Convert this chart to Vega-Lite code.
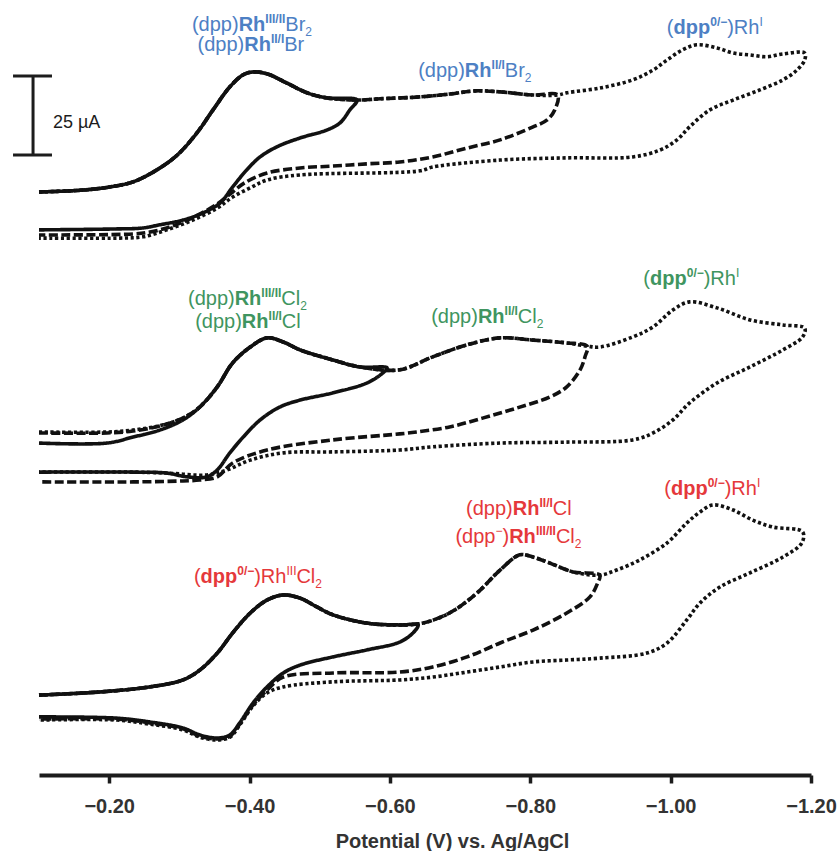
{
  "$schema": "https://vega.github.io/schema/vega-lite/v6.json",
  "width": 772,
  "height": 758,
  "autosize": {"type": "none"},
  "padding": {"left": 39, "top": 17, "right": 27, "bottom": 76},
  "config": {
    "view": {"stroke": null},
    "font": "Liberation Sans",
    "axis": {
      "domainWidth": 4, "domainColor": "#1c1c1c", "domainCap": "butt",
      "tickColor": "#1c1c1c", "tickWidth": 3.5, "tickSize": 8,
      "labelFontSize": 20, "labelFontWeight": "bold", "labelColor": "#333333",
      "labelBaseline": "alphabetic", "labelPadding": 29, "labelFlush": false, "labelOverlap": false,
      "grid": false,
      "titleFontSize": 20, "titleFontWeight": "bold", "titleColor": "#333333",
      "titleX": 413, "titleY": 72, "titleBaseline": "alphabetic", "titleAlign": "center", "titleAnchor": null
    }
  },
  "datasets": {
    "cv": [
      {"s":"a","w":"short","E":-0.100,"I":184.6},{"s":"a","w":"short","E":-0.163,"I":185.2},{"s":"a","w":"short","E":-0.201,"I":186.2},{"s":"a","w":"short","E":-0.234,"I":187.8},{"s":"a","w":"short","E":-0.268,"I":191.6},{"s":"a","w":"short","E":-0.297,"I":196.3},{"s":"a","w":"short","E":-0.325,"I":203.3},{"s":"a","w":"short","E":-0.348,"I":210.6},{"s":"a","w":"short","E":-0.372,"I":217.9},{"s":"a","w":"short","E":-0.391,"I":221.7},{"s":"a","w":"short","E":-0.405,"I":222.6},{"s":"a","w":"short","E":-0.425,"I":222.0},{"s":"a","w":"short","E":-0.453,"I":219.1},{"s":"a","w":"short","E":-0.482,"I":216.0},{"s":"a","w":"short","E":-0.510,"I":214.4},{"s":"a","w":"short","E":-0.553,"I":213.7},
      {"s":"a","w":"short","E":-0.543,"I":210.6},{"s":"a","w":"short","E":-0.529,"I":206.5},{"s":"a","w":"short","E":-0.510,"I":204.2},{"s":"a","w":"short","E":-0.472,"I":201.7},{"s":"a","w":"short","E":-0.439,"I":198.9},{"s":"a","w":"short","E":-0.415,"I":195.7},{"s":"a","w":"short","E":-0.396,"I":191.6},{"s":"a","w":"short","E":-0.376,"I":186.2},{"s":"a","w":"short","E":-0.358,"I":181.1},{"s":"a","w":"short","E":-0.334,"I":178.0},{"s":"a","w":"short","E":-0.305,"I":175.7},{"s":"a","w":"short","E":-0.272,"I":174.2},{"s":"a","w":"short","E":-0.248,"I":173.2},{"s":"a","w":"short","E":-0.211,"I":172.9},{"s":"a","w":"short","E":-0.100,"I":172.6},

      {"s":"a","w":"mid","E":-0.100,"I":184.6},{"s":"a","w":"mid","E":-0.163,"I":185.2},{"s":"a","w":"mid","E":-0.201,"I":186.2},{"s":"a","w":"mid","E":-0.234,"I":187.8},{"s":"a","w":"mid","E":-0.268,"I":191.6},{"s":"a","w":"mid","E":-0.297,"I":196.3},{"s":"a","w":"mid","E":-0.325,"I":203.3},{"s":"a","w":"mid","E":-0.348,"I":210.6},{"s":"a","w":"mid","E":-0.372,"I":217.9},{"s":"a","w":"mid","E":-0.391,"I":221.7},{"s":"a","w":"mid","E":-0.405,"I":222.6},{"s":"a","w":"mid","E":-0.425,"I":222.0},{"s":"a","w":"mid","E":-0.453,"I":219.1},{"s":"a","w":"mid","E":-0.482,"I":216.0},{"s":"a","w":"mid","E":-0.510,"I":214.4},{"s":"a","w":"mid","E":-0.553,"I":213.7},
      {"s":"a","w":"mid","E":-0.586,"I":214.1},{"s":"a","w":"mid","E":-0.643,"I":214.7},{"s":"a","w":"mid","E":-0.685,"I":215.6},{"s":"a","w":"mid","E":-0.721,"I":216.6},{"s":"a","w":"mid","E":-0.757,"I":216.3},{"s":"a","w":"mid","E":-0.804,"I":215.3},{"s":"a","w":"mid","E":-0.839,"I":215.3},
      {"s":"a","w":"mid","E":-0.835,"I":210.6},{"s":"a","w":"mid","E":-0.824,"I":207.4},{"s":"a","w":"mid","E":-0.804,"I":205.2},{"s":"a","w":"mid","E":-0.757,"I":201.1},{"s":"a","w":"mid","E":-0.710,"I":198.5},{"s":"a","w":"mid","E":-0.661,"I":195.7},{"s":"a","w":"mid","E":-0.614,"I":194.1},{"s":"a","w":"mid","E":-0.567,"I":193.5},{"s":"a","w":"mid","E":-0.519,"I":192.8},{"s":"a","w":"mid","E":-0.472,"I":192.2},{"s":"a","w":"mid","E":-0.425,"I":190.6},{"s":"a","w":"mid","E":-0.393,"I":187.5},{"s":"a","w":"mid","E":-0.376,"I":184.6},{"s":"a","w":"mid","E":-0.354,"I":180.8},{"s":"a","w":"mid","E":-0.329,"I":177.6},{"s":"a","w":"mid","E":-0.305,"I":175.1},{"s":"a","w":"mid","E":-0.282,"I":173.2},{"s":"a","w":"mid","E":-0.258,"I":171.9},{"s":"a","w":"mid","E":-0.234,"I":171.3},{"s":"a","w":"mid","E":-0.100,"I":171.0},

      {"s":"a","w":"full","E":-0.100,"I":184.6},{"s":"a","w":"full","E":-0.163,"I":185.2},{"s":"a","w":"full","E":-0.201,"I":186.2},{"s":"a","w":"full","E":-0.234,"I":187.8},{"s":"a","w":"full","E":-0.268,"I":191.6},{"s":"a","w":"full","E":-0.297,"I":196.3},{"s":"a","w":"full","E":-0.325,"I":203.3},{"s":"a","w":"full","E":-0.348,"I":210.6},{"s":"a","w":"full","E":-0.372,"I":217.9},{"s":"a","w":"full","E":-0.391,"I":221.7},{"s":"a","w":"full","E":-0.405,"I":222.6},{"s":"a","w":"full","E":-0.425,"I":222.0},{"s":"a","w":"full","E":-0.453,"I":219.1},{"s":"a","w":"full","E":-0.482,"I":216.0},{"s":"a","w":"full","E":-0.510,"I":214.4},{"s":"a","w":"full","E":-0.553,"I":213.7},
      {"s":"a","w":"full","E":-0.586,"I":214.1},{"s":"a","w":"full","E":-0.643,"I":214.7},{"s":"a","w":"full","E":-0.685,"I":215.6},{"s":"a","w":"full","E":-0.721,"I":216.6},{"s":"a","w":"full","E":-0.757,"I":216.3},{"s":"a","w":"full","E":-0.804,"I":215.3},{"s":"a","w":"full","E":-0.839,"I":215.3},
      {"s":"a","w":"full","E":-0.852,"I":216.0},{"s":"a","w":"full","E":-0.899,"I":217.5},{"s":"a","w":"full","E":-0.946,"I":220.1},{"s":"a","w":"full","E":-0.975,"I":223.2},{"s":"a","w":"full","E":-0.995,"I":226.4},{"s":"a","w":"full","E":-1.017,"I":229.6},{"s":"a","w":"full","E":-1.037,"I":231.2},{"s":"a","w":"full","E":-1.066,"I":230.2},{"s":"a","w":"full","E":-1.089,"I":228.6},{"s":"a","w":"full","E":-1.113,"I":228.0},{"s":"a","w":"full","E":-1.137,"I":227.4},{"s":"a","w":"full","E":-1.160,"I":228.3},{"s":"a","w":"full","E":-1.191,"I":228.6},
      {"s":"a","w":"full","E":-1.191,"I":226.4},{"s":"a","w":"full","E":-1.180,"I":223.2},{"s":"a","w":"full","E":-1.160,"I":220.1},{"s":"a","w":"full","E":-1.127,"I":216.9},{"s":"a","w":"full","E":-1.089,"I":213.7},{"s":"a","w":"full","E":-1.056,"I":210.6},{"s":"a","w":"full","E":-1.027,"I":205.2},{"s":"a","w":"full","E":-1.009,"I":201.1},{"s":"a","w":"full","E":-0.985,"I":197.9},{"s":"a","w":"full","E":-0.946,"I":195.7},{"s":"a","w":"full","E":-0.852,"I":195.4},{"s":"a","w":"full","E":-0.757,"I":194.7},{"s":"a","w":"full","E":-0.661,"I":192.5},{"s":"a","w":"full","E":-0.643,"I":191.3},{"s":"a","w":"full","E":-0.472,"I":190.0},{"s":"a","w":"full","E":-0.425,"I":188.4},{"s":"a","w":"full","E":-0.401,"I":185.9},{"s":"a","w":"full","E":-0.376,"I":183.0},{"s":"a","w":"full","E":-0.354,"I":179.5},{"s":"a","w":"full","E":-0.319,"I":175.7},{"s":"a","w":"full","E":-0.282,"I":172.6},{"s":"a","w":"full","E":-0.248,"I":170.4},{"s":"a","w":"full","E":-0.215,"I":170.0},{"s":"a","w":"full","E":-0.100,"I":170.0},

      {"s":"b","w":"short","E":-0.100,"I":105.1},{"s":"b","w":"short","E":-0.197,"I":105.1},{"s":"b","w":"short","E":-0.234,"I":107.0},{"s":"b","w":"short","E":-0.272,"I":109.2},{"s":"b","w":"short","E":-0.305,"I":112.4},{"s":"b","w":"short","E":-0.329,"I":116.5},{"s":"b","w":"short","E":-0.354,"I":122.9},{"s":"b","w":"short","E":-0.376,"I":130.5},{"s":"b","w":"short","E":-0.401,"I":135.5},{"s":"b","w":"short","E":-0.425,"I":138.4},{"s":"b","w":"short","E":-0.448,"I":137.1},{"s":"b","w":"short","E":-0.472,"I":134.6},{"s":"b","w":"short","E":-0.519,"I":131.4},{"s":"b","w":"short","E":-0.557,"I":129.2},{"s":"b","w":"short","E":-0.596,"I":128.9},
      {"s":"b","w":"short","E":-0.590,"I":127.3},{"s":"b","w":"short","E":-0.567,"I":124.1},{"s":"b","w":"short","E":-0.519,"I":121.0},{"s":"b","w":"short","E":-0.472,"I":118.7},{"s":"b","w":"short","E":-0.443,"I":116.5},{"s":"b","w":"short","E":-0.415,"I":112.4},{"s":"b","w":"short","E":-0.391,"I":107.0},{"s":"b","w":"short","E":-0.372,"I":102.0},{"s":"b","w":"short","E":-0.354,"I":96.6},{"s":"b","w":"short","E":-0.339,"I":94.4},{"s":"b","w":"short","E":-0.311,"I":94.4},{"s":"b","w":"short","E":-0.282,"I":95.6},{"s":"b","w":"short","E":-0.234,"I":95.9},{"s":"b","w":"short","E":-0.100,"I":95.9},

      {"s":"b","w":"mid","E":-0.100,"I":108.3},{"s":"b","w":"mid","E":-0.197,"I":108.3},{"s":"b","w":"mid","E":-0.234,"I":108.9},{"s":"b","w":"mid","E":-0.272,"I":110.5},{"s":"b","w":"mid","E":-0.305,"I":113.0},{"s":"b","w":"mid","E":-0.329,"I":116.5},{"s":"b","w":"mid","E":-0.354,"I":122.9},{"s":"b","w":"mid","E":-0.376,"I":130.5},{"s":"b","w":"mid","E":-0.401,"I":135.5},{"s":"b","w":"mid","E":-0.425,"I":138.4},{"s":"b","w":"mid","E":-0.448,"I":137.1},{"s":"b","w":"mid","E":-0.472,"I":134.6},{"s":"b","w":"mid","E":-0.519,"I":131.4},{"s":"b","w":"mid","E":-0.557,"I":129.2},
      {"s":"b","w":"mid","E":-0.614,"I":128.3},{"s":"b","w":"mid","E":-0.661,"I":132.4},{"s":"b","w":"mid","E":-0.710,"I":136.2},{"s":"b","w":"mid","E":-0.757,"I":138.4},{"s":"b","w":"mid","E":-0.804,"I":137.7},{"s":"b","w":"mid","E":-0.852,"I":136.8},{"s":"b","w":"mid","E":-0.881,"I":135.8},
      {"s":"b","w":"mid","E":-0.878,"I":132.4},{"s":"b","w":"mid","E":-0.871,"I":128.3},{"s":"b","w":"mid","E":-0.852,"I":122.9},{"s":"b","w":"mid","E":-0.828,"I":119.7},{"s":"b","w":"mid","E":-0.781,"I":116.2},{"s":"b","w":"mid","E":-0.732,"I":113.0},{"s":"b","w":"mid","E":-0.685,"I":110.2},{"s":"b","w":"mid","E":-0.638,"I":108.6},{"s":"b","w":"mid","E":-0.614,"I":108.0},{"s":"b","w":"mid","E":-0.519,"I":106.1},{"s":"b","w":"mid","E":-0.425,"I":102.9},{"s":"b","w":"mid","E":-0.376,"I":98.8},{"s":"b","w":"mid","E":-0.354,"I":94.4},{"s":"b","w":"mid","E":-0.329,"I":93.4},{"s":"b","w":"mid","E":-0.305,"I":93.1},{"s":"b","w":"mid","E":-0.234,"I":92.8},{"s":"b","w":"mid","E":-0.100,"I":92.8},

      {"s":"b","w":"full","E":-0.100,"I":108.6},{"s":"b","w":"full","E":-0.197,"I":108.6},{"s":"b","w":"full","E":-0.234,"I":109.2},{"s":"b","w":"full","E":-0.272,"I":110.6},{"s":"b","w":"full","E":-0.305,"I":113.0},{"s":"b","w":"full","E":-0.329,"I":116.5},{"s":"b","w":"full","E":-0.354,"I":122.9},{"s":"b","w":"full","E":-0.376,"I":130.5},{"s":"b","w":"full","E":-0.401,"I":135.5},{"s":"b","w":"full","E":-0.425,"I":138.4},{"s":"b","w":"full","E":-0.448,"I":137.1},{"s":"b","w":"full","E":-0.472,"I":134.6},{"s":"b","w":"full","E":-0.519,"I":131.4},{"s":"b","w":"full","E":-0.557,"I":129.2},
      {"s":"b","w":"full","E":-0.614,"I":128.3},{"s":"b","w":"full","E":-0.661,"I":132.4},{"s":"b","w":"full","E":-0.710,"I":136.2},{"s":"b","w":"full","E":-0.757,"I":138.4},{"s":"b","w":"full","E":-0.804,"I":137.7},{"s":"b","w":"full","E":-0.852,"I":136.8},{"s":"b","w":"full","E":-0.881,"I":135.8},
      {"s":"b","w":"full","E":-0.899,"I":135.5},{"s":"b","w":"full","E":-0.946,"I":138.7},{"s":"b","w":"full","E":-0.975,"I":141.9},{"s":"b","w":"full","E":-1.003,"I":147.2},{"s":"b","w":"full","E":-1.027,"I":149.8},{"s":"b","w":"full","E":-1.066,"I":147.9},{"s":"b","w":"full","E":-1.113,"I":144.1},{"s":"b","w":"full","E":-1.160,"I":142.5},{"s":"b","w":"full","E":-1.191,"I":141.5},
      {"s":"b","w":"full","E":-1.188,"I":138.7},{"s":"b","w":"full","E":-1.160,"I":134.6},{"s":"b","w":"full","E":-1.113,"I":129.2},{"s":"b","w":"full","E":-1.066,"I":124.1},{"s":"b","w":"full","E":-1.027,"I":117.8},{"s":"b","w":"full","E":-1.003,"I":112.4},{"s":"b","w":"full","E":-0.975,"I":108.3},{"s":"b","w":"full","E":-0.946,"I":106.1},{"s":"b","w":"full","E":-0.852,"I":105.4},{"s":"b","w":"full","E":-0.757,"I":105.1},{"s":"b","w":"full","E":-0.661,"I":103.9},{"s":"b","w":"full","E":-0.614,"I":102.9},{"s":"b","w":"full","E":-0.519,"I":102.3},{"s":"b","w":"full","E":-0.448,"I":102.0},{"s":"b","w":"full","E":-0.401,"I":99.7},{"s":"b","w":"full","E":-0.368,"I":96.6},{"s":"b","w":"full","E":-0.339,"I":95.0},{"s":"b","w":"full","E":-0.282,"I":95.6},{"s":"b","w":"full","E":-0.234,"I":95.9},{"s":"b","w":"full","E":-0.100,"I":95.9},

      {"s":"c","w":"short","E":-0.100,"I":25.3},{"s":"c","w":"short","E":-0.187,"I":26.3},{"s":"c","w":"short","E":-0.258,"I":27.9},{"s":"c","w":"short","E":-0.305,"I":30.1},{"s":"c","w":"short","E":-0.329,"I":33.2},{"s":"c","w":"short","E":-0.354,"I":38.6},{"s":"c","w":"short","E":-0.376,"I":45.0},{"s":"c","w":"short","E":-0.401,"I":51.3},{"s":"c","w":"short","E":-0.425,"I":55.4},{"s":"c","w":"short","E":-0.448,"I":57.0},{"s":"c","w":"short","E":-0.472,"I":56.0},{"s":"c","w":"short","E":-0.496,"I":53.2},{"s":"c","w":"short","E":-0.519,"I":50.7},{"s":"c","w":"short","E":-0.567,"I":48.1},{"s":"c","w":"short","E":-0.614,"I":47.5},{"s":"c","w":"short","E":-0.640,"I":47.5},
      {"s":"c","w":"short","E":-0.633,"I":45.0},{"s":"c","w":"short","E":-0.614,"I":42.1},{"s":"c","w":"short","E":-0.567,"I":39.6},{"s":"c","w":"short","E":-0.519,"I":37.4},{"s":"c","w":"short","E":-0.472,"I":34.8},{"s":"c","w":"short","E":-0.448,"I":32.3},{"s":"c","w":"short","E":-0.425,"I":27.9},{"s":"c","w":"short","E":-0.405,"I":22.8},{"s":"c","w":"short","E":-0.386,"I":16.5},{"s":"c","w":"short","E":-0.372,"I":12.7},{"s":"c","w":"short","E":-0.354,"I":11.7},{"s":"c","w":"short","E":-0.329,"I":12.7},{"s":"c","w":"short","E":-0.305,"I":14.9},{"s":"c","w":"short","E":-0.258,"I":16.8},{"s":"c","w":"short","E":-0.211,"I":18.0},{"s":"c","w":"short","E":-0.100,"I":18.4},

      {"s":"c","w":"mid","E":-0.100,"I":25.3},{"s":"c","w":"mid","E":-0.187,"I":26.3},{"s":"c","w":"mid","E":-0.258,"I":27.9},{"s":"c","w":"mid","E":-0.305,"I":30.1},{"s":"c","w":"mid","E":-0.329,"I":33.2},{"s":"c","w":"mid","E":-0.354,"I":38.6},{"s":"c","w":"mid","E":-0.376,"I":45.0},{"s":"c","w":"mid","E":-0.401,"I":51.3},{"s":"c","w":"mid","E":-0.425,"I":55.4},{"s":"c","w":"mid","E":-0.448,"I":57.0},{"s":"c","w":"mid","E":-0.472,"I":56.0},{"s":"c","w":"mid","E":-0.496,"I":53.2},{"s":"c","w":"mid","E":-0.519,"I":50.7},{"s":"c","w":"mid","E":-0.567,"I":48.1},{"s":"c","w":"mid","E":-0.614,"I":47.5},
      {"s":"c","w":"mid","E":-0.647,"I":48.1},{"s":"c","w":"mid","E":-0.685,"I":51.3},{"s":"c","w":"mid","E":-0.724,"I":57.6},{"s":"c","w":"mid","E":-0.757,"I":64.9},{"s":"c","w":"mid","E":-0.785,"I":69.7},{"s":"c","w":"mid","E":-0.804,"I":69.0},{"s":"c","w":"mid","E":-0.828,"I":67.1},{"s":"c","w":"mid","E":-0.861,"I":64.3},{"s":"c","w":"mid","E":-0.899,"I":63.3},
      {"s":"c","w":"mid","E":-0.896,"I":60.8},{"s":"c","w":"mid","E":-0.885,"I":56.4},{"s":"c","w":"mid","E":-0.852,"I":51.3},{"s":"c","w":"mid","E":-0.804,"I":45.9},{"s":"c","w":"mid","E":-0.757,"I":41.8},{"s":"c","w":"mid","E":-0.710,"I":37.4},{"s":"c","w":"mid","E":-0.661,"I":34.2},{"s":"c","w":"mid","E":-0.614,"I":32.6},{"s":"c","w":"mid","E":-0.519,"I":32.3},{"s":"c","w":"mid","E":-0.448,"I":31.0},{"s":"c","w":"mid","E":-0.425,"I":26.9},{"s":"c","w":"mid","E":-0.405,"I":22.2},{"s":"c","w":"mid","E":-0.386,"I":16.1},{"s":"c","w":"mid","E":-0.372,"I":12.3},{"s":"c","w":"mid","E":-0.354,"I":11.4},{"s":"c","w":"mid","E":-0.329,"I":12.3},{"s":"c","w":"mid","E":-0.305,"I":14.6},{"s":"c","w":"mid","E":-0.258,"I":16.5},{"s":"c","w":"mid","E":-0.211,"I":17.7},{"s":"c","w":"mid","E":-0.100,"I":17.7},

      {"s":"c","w":"full","E":-0.100,"I":25.3},{"s":"c","w":"full","E":-0.187,"I":26.3},{"s":"c","w":"full","E":-0.258,"I":27.9},{"s":"c","w":"full","E":-0.305,"I":30.1},{"s":"c","w":"full","E":-0.329,"I":33.2},{"s":"c","w":"full","E":-0.354,"I":38.6},{"s":"c","w":"full","E":-0.376,"I":45.0},{"s":"c","w":"full","E":-0.401,"I":51.3},{"s":"c","w":"full","E":-0.425,"I":55.4},{"s":"c","w":"full","E":-0.448,"I":57.0},{"s":"c","w":"full","E":-0.472,"I":56.0},{"s":"c","w":"full","E":-0.496,"I":53.2},{"s":"c","w":"full","E":-0.519,"I":50.7},{"s":"c","w":"full","E":-0.567,"I":48.1},{"s":"c","w":"full","E":-0.614,"I":47.5},
      {"s":"c","w":"full","E":-0.647,"I":48.1},{"s":"c","w":"full","E":-0.685,"I":51.3},{"s":"c","w":"full","E":-0.724,"I":57.6},{"s":"c","w":"full","E":-0.757,"I":64.9},{"s":"c","w":"full","E":-0.785,"I":69.7},{"s":"c","w":"full","E":-0.804,"I":69.0},{"s":"c","w":"full","E":-0.828,"I":67.1},{"s":"c","w":"full","E":-0.861,"I":64.3},{"s":"c","w":"full","E":-0.899,"I":63.3},
      {"s":"c","w":"full","E":-0.923,"I":64.9},{"s":"c","w":"full","E":-0.956,"I":68.1},{"s":"c","w":"full","E":-0.995,"I":73.5},{"s":"c","w":"full","E":-1.023,"I":79.8},{"s":"c","w":"full","E":-1.042,"I":83.3},{"s":"c","w":"full","E":-1.060,"I":85.5},{"s":"c","w":"full","E":-1.089,"I":83.9},{"s":"c","w":"full","E":-1.117,"I":80.7},{"s":"c","w":"full","E":-1.146,"I":78.5},{"s":"c","w":"full","E":-1.188,"I":77.0},
      {"s":"c","w":"full","E":-1.187,"I":73.5},{"s":"c","w":"full","E":-1.160,"I":69.0},{"s":"c","w":"full","E":-1.113,"I":64.0},{"s":"c","w":"full","E":-1.070,"I":59.5},{"s":"c","w":"full","E":-1.042,"I":54.5},{"s":"c","w":"full","E":-1.023,"I":49.1},{"s":"c","w":"full","E":-0.995,"I":41.8},{"s":"c","w":"full","E":-0.966,"I":38.6},{"s":"c","w":"full","E":-0.899,"I":37.0},{"s":"c","w":"full","E":-0.852,"I":36.4},{"s":"c","w":"full","E":-0.804,"I":35.8},{"s":"c","w":"full","E":-0.757,"I":34.2},{"s":"c","w":"full","E":-0.710,"I":32.6},{"s":"c","w":"full","E":-0.661,"I":31.0},{"s":"c","w":"full","E":-0.614,"I":30.1},{"s":"c","w":"full","E":-0.519,"I":29.5},{"s":"c","w":"full","E":-0.448,"I":27.9},{"s":"c","w":"full","E":-0.425,"I":26.0},{"s":"c","w":"full","E":-0.405,"I":21.9},{"s":"c","w":"full","E":-0.386,"I":15.8},{"s":"c","w":"full","E":-0.372,"I":12.0},{"s":"c","w":"full","E":-0.354,"I":11.1},{"s":"c","w":"full","E":-0.329,"I":12.0},{"s":"c","w":"full","E":-0.305,"I":14.3},{"s":"c","w":"full","E":-0.258,"I":16.1},{"s":"c","w":"full","E":-0.211,"I":17.4},{"s":"c","w":"full","E":-0.100,"I":17.4}
    ],
    "scalebar": [
      {"E":-0.0915,"I":196.3,"E2":-0.0915,"I2":221.3},
      {"E":-0.063,"I":196.3,"E2":-0.1185,"I2":196.3},
      {"E":-0.063,"I":221.3,"E2":-0.1185,"I2":221.3}
    ],
    "scaletext": [{"t":"25 µA","E":-0.1199,"I":206.5}],
    "txtNormal": [
      {"s":"a","t":"(dpp)","E":-0.3179,"I":235.6},{"s":"a","t":"Br","E":-0.4510,"I":235.6},
      {"s":"a","t":"(dpp)","E":-0.3259,"I":229.3},{"s":"a","t":"Br","E":-0.4494,"I":229.3},
      {"s":"a","t":"(dpp)","E":-0.6403,"I":221.0},{"s":"a","t":"Br","E":-0.7638,"I":221.0},
      {"s":"a","t":"(","E":-0.9946,"I":234.6},{"s":"a","t":")","E":-1.0806,"I":234.6},{"s":"a","t":"Rh","E":-1.0900,"I":234.6},
      {"s":"b","t":"(dpp)","E":-0.3123,"I":148.8},{"s":"b","t":"Cl","E":-0.4453,"I":148.8},
      {"s":"b","t":"(dpp)","E":-0.3225,"I":141.5},{"s":"b","t":"Cl","E":-0.4460,"I":141.5},
      {"s":"b","t":"(dpp)","E":-0.6588,"I":143.1},{"s":"b","t":"Cl","E":-0.7823,"I":143.1},
      {"s":"b","t":"(","E":-0.9611,"I":155.2},{"s":"b","t":")","E":-1.0472,"I":155.2},{"s":"b","t":"Rh","E":-1.0566,"I":155.2},
      {"s":"c","t":"(","E":-0.3207,"I":60.8},{"s":"c","t":")","E":-0.4067,"I":60.8},{"s":"c","t":"Rh","E":-0.4161,"I":60.8},{"s":"c","t":"Cl","E":-0.4668,"I":60.8},
      {"s":"c","t":"(dpp)","E":-0.7085,"I":82.3},{"s":"c","t":"Cl","E":-0.8321,"I":82.3},
      {"s":"c","t":"(","E":-0.6933,"I":73.5},{"s":"c","t":"dpp","E":-0.7028,"I":73.5},{"s":"c","t":")","E":-0.7604,"I":73.5},{"s":"c","t":"Cl","E":-0.8365,"I":73.5},
      {"s":"c","t":"(","E":-0.9910,"I":88.7},{"s":"c","t":")","E":-1.0771,"I":88.7},{"s":"c","t":"Rh","E":-1.0865,"I":88.7}
    ],
    "txtBold": [
      {"s":"a","t":"Rh","E":-0.3845,"I":235.6},{"s":"a","t":"Rh","E":-0.3925,"I":229.3},{"s":"a","t":"Rh","E":-0.7068,"I":221.0},{"s":"a","t":"dpp","E":-1.0041,"I":234.6},
      {"s":"b","t":"Rh","E":-0.3788,"I":148.8},{"s":"b","t":"Rh","E":-0.3890,"I":141.5},{"s":"b","t":"Rh","E":-0.7254,"I":143.1},{"s":"b","t":"dpp","E":-0.9707,"I":155.2},
      {"s":"c","t":"dpp","E":-0.3302,"I":60.8},{"s":"c","t":"Rh","E":-0.7751,"I":82.3},{"s":"c","t":"Rh","E":-0.7699,"I":73.5},{"s":"c","t":"dpp","E":-1.0006,"I":88.7}
    ],
    "txtSupBold": [
      {"s":"a","t":"III/II","E":-0.4225,"I":235.6},{"s":"a","t":"II/I","E":-0.4305,"I":229.3},{"s":"a","t":"II/I","E":-0.7449,"I":221.0},{"s":"a","t":"0/−","E":-1.0564,"I":234.6},
      {"s":"b","t":"III/II","E":-0.4168,"I":148.8},{"s":"b","t":"II/I","E":-0.4271,"I":141.5},{"s":"b","t":"II/I","E":-0.7634,"I":143.1},{"s":"b","t":"0/−","E":-1.0229,"I":155.2},
      {"s":"c","t":"0/−","E":-0.3825,"I":60.8},{"s":"c","t":"II/I","E":-0.8131,"I":82.3},{"s":"c","t":"III/II","E":-0.8080,"I":73.5},{"s":"c","t":"0/−","E":-1.0528,"I":88.7}
    ],
    "txtSup": [
      {"s":"a","t":"I","E":-1.1265,"I":234.6},
      {"s":"b","t":"I","E":-1.0930,"I":155.2},
      {"s":"c","t":"III","E":-0.4526,"I":60.8},{"s":"c","t":"−","E":-0.7504,"I":73.5},{"s":"c","t":"I","E":-1.1229,"I":88.7}
    ],
    "txtSub": [
      {"s":"a","t":"2","E":-0.4795,"I":235.6},{"s":"a","t":"2","E":-0.7923,"I":221.0},
      {"s":"b","t":"2","E":-0.4722,"I":148.8},{"s":"b","t":"2","E":-0.8093,"I":143.1},
      {"s":"c","t":"2","E":-0.4937,"I":60.8},{"s":"c","t":"2","E":-0.8634,"I":73.5}
    ]
  },
  "encoding": {
    "x": {
      "field": "E", "type": "quantitative",
      "scale": {"domain": [-1.2, -0.1], "reverse": true, "nice": false, "zero": false},
      "axis": {"values": [-0.2, -0.4, -0.6, -0.8, -1.0, -1.2], "format": ".2f", "title": "Potential (V) vs. Ag/AgCl"}
    },
    "y": {
      "field": "I", "type": "quantitative",
      "scale": {"domain": [0, 240], "nice": false, "zero": false},
      "axis": null
    }
  },
  "layer": [
    {
      "data": {"name": "cv"},
      "mark": {"type": "line", "color": "#111111", "strokeWidth": 3.6, "interpolate": "catmull-rom", "strokeJoin": "round", "strokeCap": "butt"},
      "encoding": {
        "detail": {"field": "s"},
        "strokeDash": {
          "field": "w", "type": "nominal",
          "scale": {"domain": ["short", "mid", "full"], "range": [[1, 0], [9, 3.5], [3.2, 2.6]]},
          "legend": null
        },
        "order": {"value": null}
      }
    },
    {
      "data": {"name": "scalebar"},
      "mark": {"type": "rule", "color": "#1c1c1c", "strokeWidth": 3},
      "encoding": {"x2": {"field": "E2"}, "y2": {"field": "I2"}}
    },
    {
      "data": {"name": "scaletext"},
      "mark": {"type": "text", "align": "left", "baseline": "middle", "fontSize": 18, "color": "#1c1c1c"},
      "encoding": {"text": {"field": "t"}}
    },
    {
      "data": {"name": "txtNormal"},
      "mark": {"type": "text", "align": "left", "baseline": "alphabetic", "fontSize": 20},
      "encoding": {
        "text": {"field": "t"},
        "color": {"field": "s", "type": "nominal", "scale": {"domain": ["a", "b", "c"], "range": ["#4d80c4", "#3f9560", "#e5383b"]}, "legend": null}
      }
    },
    {
      "data": {"name": "txtBold"},
      "mark": {"type": "text", "align": "left", "baseline": "alphabetic", "fontSize": 20, "fontWeight": "bold"},
      "encoding": {
        "text": {"field": "t"},
        "color": {"field": "s", "type": "nominal", "legend": null}
      }
    },
    {
      "data": {"name": "txtSupBold"},
      "mark": {"type": "text", "align": "left", "baseline": "alphabetic", "fontSize": 12, "fontWeight": "bold", "dy": -8},
      "encoding": {
        "text": {"field": "t"},
        "color": {"field": "s", "type": "nominal", "legend": null}
      }
    },
    {
      "data": {"name": "txtSup"},
      "mark": {"type": "text", "align": "left", "baseline": "alphabetic", "fontSize": 12, "dy": -8},
      "encoding": {
        "text": {"field": "t"},
        "color": {"field": "s", "type": "nominal", "legend": null}
      }
    },
    {
      "data": {"name": "txtSub"},
      "mark": {"type": "text", "align": "left", "baseline": "alphabetic", "fontSize": 12, "dy": 5},
      "encoding": {
        "text": {"field": "t"},
        "color": {"field": "s", "type": "nominal", "legend": null}
      }
    }
  ]
}
